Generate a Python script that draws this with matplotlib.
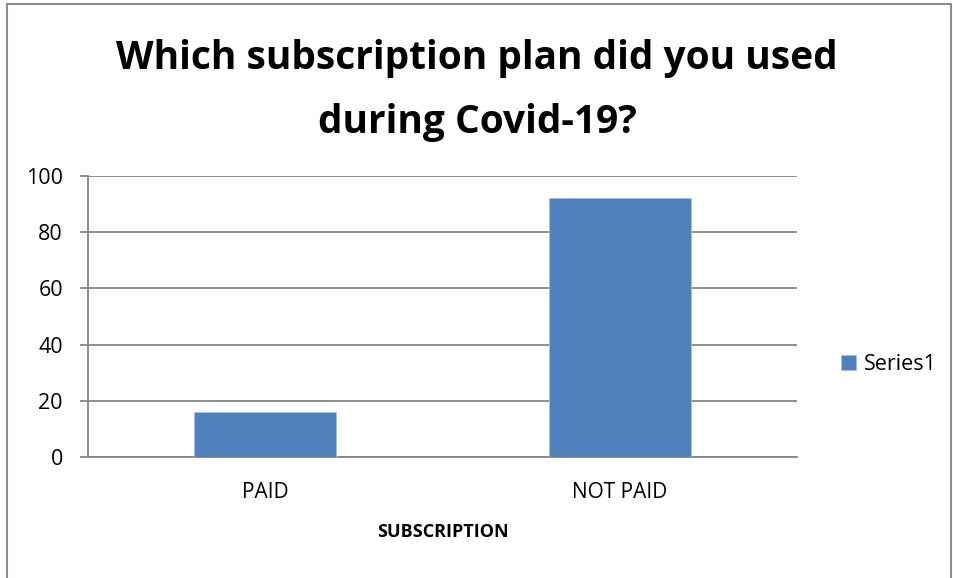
import matplotlib
matplotlib.use('Agg')
import matplotlib.pyplot as plt
from matplotlib.patches import Rectangle

plt.rcParams['font.family'] = ['Open Sans', 'DejaVu Sans']

categories = ['PAID', 'NOT PAID']
series1 = [16, 92]
yticks = [0, 20, 40, 60, 80, 100]

grid_col = '#868686'
bar_col = '#4F81BD'

fig = plt.figure(figsize=(9.54, 5.78), dpi=100)
ax = fig.add_axes([88/954, 1 - 457.3/578, (797 - 88)/954, (457.3 - 175.7)/578])

x = range(len(categories))
ax.bar(x, series1, width=0.4, color=bar_col, edgecolor='#A7BFDE', linewidth=0.6,
       label='Series1', zorder=3)

ax.set_xlim(-0.5, 1.5)
ax.set_ylim(0, 100)
ax.set_yticks(yticks)
ax.set_xticks(list(x))
ax.set_xticklabels(categories)
ax.yaxis.grid(True, color=grid_col, linewidth=1.3, zorder=0)

for s in ['top', 'right']:
    ax.spines[s].set_visible(False)
for s in ['left', 'bottom']:
    ax.spines[s].set_color(grid_col)
    ax.spines[s].set_linewidth(1.3)

ax.tick_params(axis='y', length=6, width=1.3, color=grid_col, pad=12, labelsize=15.5)
ax.tick_params(axis='x', length=0, pad=18, labelsize=15)

ax.set_xlabel('SUBSCRIPTION', fontsize=13, fontweight='bold', labelpad=14)

fig.text(0.5, 1 - 59/578, 'Which subscription plan did you used', ha='center', va='center',
         fontsize=28, fontweight='bold')
fig.text(0.5, 1 - 122/578, 'during Covid-19?', ha='center', va='center',
         fontsize=28, fontweight='bold')

ax.legend(loc='center left', bbox_to_anchor=(1.035, 0.33), frameon=False, fontsize=15.5,
          handlelength=0.7, handleheight=0.7, handletextpad=0.35)

# outer chart frame
fig.patches.append(Rectangle((7/954, -0.02), (951 - 7)/954, 1 - 4/578 + 0.02,
                             transform=fig.transFigure, fill=False,
                             edgecolor='#8C8C8C', linewidth=1.5))

fig.savefig('out.png', dpi=100)
